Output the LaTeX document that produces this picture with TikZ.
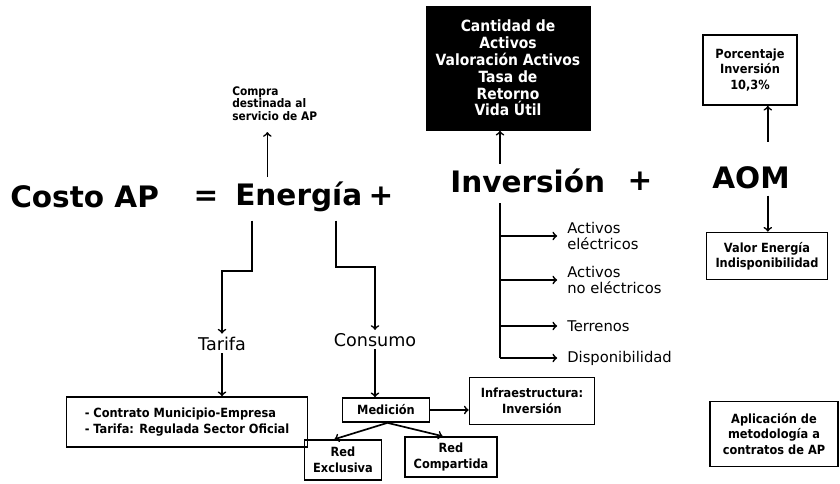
\documentclass[tikz,border=0pt]{standalone}
\usepackage{fontspec}
\setmainfont{DejaVu Sans}
\newfontfamily\condfont{DejaVu Sans Condensed}
\begin{document}
\begin{tikzpicture}[
  x=0.025cm, y=-0.025cm,
  big/.style={font=\bfseries\fontsize{21}{25}\selectfont, inner sep=0pt},
  mid/.style={font=\fontsize{12.5}{15}\selectfont, inner sep=2pt},
  lbl/.style={font=\fontsize{10.5}{12}\selectfont, align=left, inner sep=0pt, anchor=west},
  block/.style={rectangle, draw, very thick, font=\condfont\bfseries\fontsize{9}{11}\selectfont, align=center, inner sep=1pt},
  dark/.style={rectangle, fill=black, text=white, font=\condfont\bfseries\fontsize{11}{12}\selectfont, align=center},
  font=\small
]
\useasboundingbox (0,0) rectangle (840,483);

% main equation
\node[big, anchor=base west] (costo) at (10,207) {Costo AP};
\node[big, anchor=base] (eq) at (206,205) {=};
\node[big, anchor=base west] (energia) at (235,205) {Energía};
\node[big, anchor=base] (plusA) at (381,205) {+};
\node[big, anchor=base west] (inversion) at (450,192) {Inversión};
\node[big, anchor=base] (plusB) at (640,190) {+};
\node[big, anchor=base west] (aom) at (712,188) {AOM};

% energia
\node[anchor=north west, inner sep=0pt, align=left, font=\condfont\bfseries\fontsize{8.4}{9}\selectfont] (compra) at (232,86) {Compra\\destinada al\\servicio de AP};
\node[mid, anchor=base] (tarifa) at (222,350) {Tarifa};
\node[mid, anchor=base] (consumo) at (375,346) {Consumo};
\node[block, align=left, minimum width=241*0.025cm, minimum height=50*0.025cm] (contrato) at (187,422) {- Contrato Municipio-Empresa\\- Tarifa: Regulada Sector Oficial};
\node[block, minimum width=87*0.025cm, minimum height=24*0.025cm] (medicion) at (386,410) {Medición};
\node[block, minimum width=125*0.025cm, minimum height=47*0.025cm] (infra) at (532,401) {Infraestructura:\\Inversión};
\node[block, minimum width=77*0.025cm, minimum height=40*0.025cm] (redex) at (343,460) {Red\\Exclusiva};
\node[block, minimum width=92*0.025cm, minimum height=40*0.025cm] (redcomp) at (451,457) {Red\\Compartida};

% inversion
\node[dark, minimum width=165*0.025cm, minimum height=125*0.025cm] (activos) at (508,68) {Cantidad de\\Activos\\Valoración Activos\\Tasa de\\Retorno\\Vida Útil};
\node[lbl] (elec) at (567,236) {Activos\\eléctricos};
\node[lbl] (noelec) at (567,280) {Activos\\no eléctricos};
\node[lbl] (terr) at (567,326) {Terrenos};
\node[lbl] (disp) at (567,358) {Disponibilidad};
\coordinate (trunk) at (500,203);

% aom
\node[block, minimum width=94*0.025cm, minimum height=70*0.025cm] (porc) at (750,70) {Porcentaje\\Inversión\\10,3\%};
\node[block, minimum width=121*0.025cm, minimum height=47*0.025cm] (valor) at (767,256) {Valor Energía\\Indisponibilidad};
\node[block, minimum width=128*0.025cm, minimum height=65*0.025cm] (aplic) at (774,434) {Aplicación de\\metodología a\\contratos de AP};

\draw[->,very thick] ([xshift=23pt]energia.north west) ++(0,-4) -- ([xshift=23pt]energia.north west |- compra.south) [shorten >=8pt];
\draw[->,very thick] ([xshift=12pt]energia.south west) ++(0,9) -- ++(0,50) -| (tarifa.north);
\draw[->,very thick] ([xshift=72pt]energia.south west) ++(0,9) -- ++(0,46) -| (consumo.north);
\draw[->,very thick] (tarifa.south) -- (tarifa.south |- contrato.north);
\draw[->,very thick] (consumo.south) -- (consumo.south |- medicion.north);
\draw[->,very thick] (medicion.east) -- (infra.west |- medicion.east);
\draw[->,very thick] ([xshift=1pt]medicion.south) -- ([xshift=-6pt]redex.north);
\draw[->,very thick] ([xshift=1pt]medicion.south) -- ([xshift=-6pt]redcomp.north);

\draw[->,very thick,shorten <=3pt] (inversion.north -| trunk) -- (trunk |- activos.south);
\draw[very thick] (trunk) -- (trunk |- disp);
\foreach \n in {elec,noelec,terr,disp}
  \draw[->,very thick,shorten >=7pt] (trunk |- \n.west) -- (\n.west);

\draw[->,very thick,shorten <=17pt] ([xshift=12pt]aom.north) -- ([xshift=12pt]aom.north |- porc.south);
\draw[->,very thick,shorten <=5pt] ([xshift=12pt]aom.south) -- ([xshift=12pt]aom.south |- valor.north);
\end{tikzpicture}
\end{document}
